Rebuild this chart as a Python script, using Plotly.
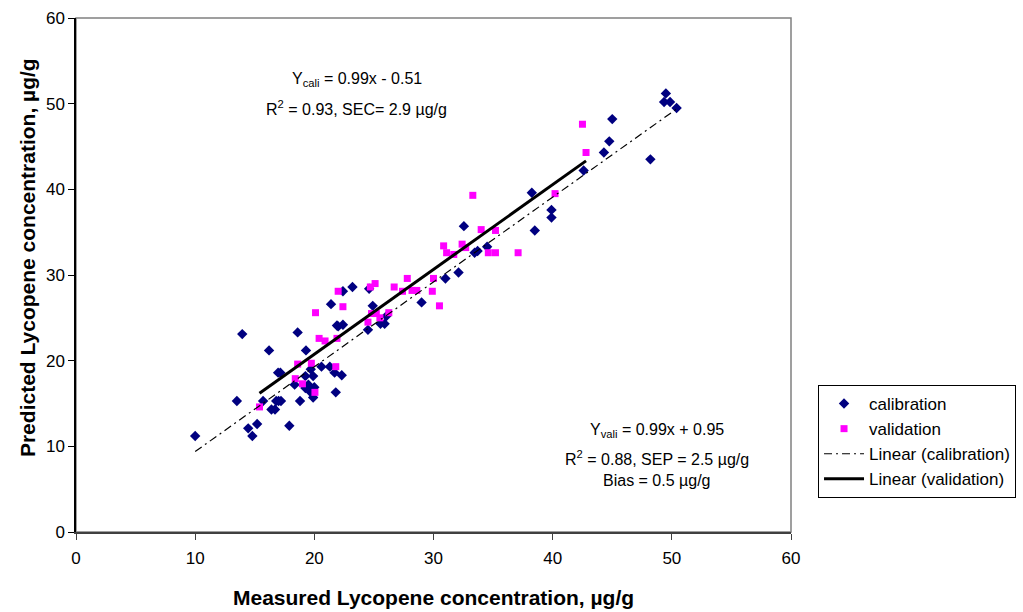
import plotly.graph_objects as go

# Calibration set (measured, predicted)
cal_x = [10.0, 13.95, 16.2, 18.6, 21.9, 19.3, 13.5, 14.45, 14.8, 15.2, 17.9, 15.7,
         16.4, 16.7, 16.96, 17.15, 16.8, 17.0, 17.2, 18.8, 19.7, 19.9, 18.35, 19.25,
         19.5, 19.7, 19.9, 20.0, 20.6, 21.3, 21.7, 21.8, 21.4, 22.4, 23.2, 22.0, 22.4,
         24.6, 24.9, 24.5, 22.3, 19.25, 32.55, 33.45, 33.7, 34.5, 32.1, 31.0, 29.0,
         25.55, 25.9, 26.05, 49.5, 49.35, 49.85, 50.4, 45.0, 44.75, 44.3, 48.2, 42.6,
         38.25, 39.9, 39.9, 38.5]
cal_y = [11.2, 23.1, 21.2, 23.3, 24.1, 21.2, 15.3, 12.1, 11.2, 12.6, 12.4, 15.3,
         14.3, 14.3, 18.6, 18.6, 15.3, 15.3, 15.3, 15.3, 19.0, 18.2, 17.2, 16.8,
         17.2, 16.3, 15.7, 16.9, 19.3, 19.3, 18.6, 16.3, 26.6, 28.1, 28.6, 24.0, 24.2,
         28.4, 26.4, 23.6, 18.3, 18.2, 35.7, 32.6, 32.8, 33.3, 30.3, 29.6, 26.8,
         24.3, 24.3, 25.2, 51.2, 50.2, 50.2, 49.5, 48.2, 45.6, 44.3, 43.5, 42.2,
         39.6, 37.6, 36.7, 35.2]

# Validation set (measured, predicted)
val_x = [15.4, 18.6, 19.75, 18.4, 19.0, 20.05, 21.8, 20.4, 20.9, 21.9, 20.1, 22.0,
         22.4, 24.7, 25.1, 24.5, 24.8, 33.3, 34.0, 35.2, 30.85, 31.1, 31.7, 32.4,
         32.7, 34.6, 35.2, 37.1, 30.0, 27.8, 29.9, 30.5, 28.2, 28.6, 27.4, 26.7,
         25.2, 25.5, 26.25, 42.5, 42.8, 40.2]
val_y = [14.6, 19.6, 19.7, 17.9, 17.3, 16.3, 19.3, 22.6, 22.3, 22.6, 25.6, 28.1,
         26.3, 28.6, 29.0, 24.5, 25.5, 39.3, 35.3, 35.2, 33.4, 32.6, 32.4, 33.6,
         33.2, 32.6, 32.6, 32.6, 29.6, 29.6, 28.1, 26.4, 28.2, 28.2, 28.1, 28.6,
         25.5, 25.0, 25.6, 47.6, 44.3, 39.5]

# Regression equations shown on the chart
cal_slope, cal_intercept = 0.99, -0.51
val_slope, val_intercept = 0.99, 0.95

cal_line_x = [min(cal_x), max(cal_x)]
cal_line_y = [cal_slope * v + cal_intercept for v in cal_line_x]
val_line_x = [min(val_x), max(val_x)]
val_line_y = [val_slope * v + val_intercept for v in val_line_x]

FONT = "Arial, Liberation Sans, sans-serif"

fig = go.Figure()
fig.add_trace(go.Scatter(x=cal_x, y=cal_y, mode="markers", name="calibration",
                         marker=dict(symbol="diamond", size=8, color="#000080")))
fig.add_trace(go.Scatter(x=val_x, y=val_y, mode="markers", name="validation",
                         marker=dict(symbol="square", size=7, color="#FF00FF")))
fig.add_trace(go.Scatter(x=cal_line_x, y=cal_line_y, mode="lines", name="Linear (calibration)",
                         line=dict(color="black", width=1.2, dash="8px,4px,2px,4px")))
fig.add_trace(go.Scatter(x=val_line_x, y=val_line_y, mode="lines", name="Linear (validation)",
                         line=dict(color="black", width=3)))

annots = [
    (23.57, 52.8, "Y<sub>cali</sub> = 0.99x - 0.51"),
    (23.57, 49.5, "R<sup>2</sup> = 0.93, SEC= 2.9 µg/g"),
    (48.72, 11.83, "Y<sub>vali</sub> = 0.99x + 0.95"),
    (48.72, 8.68, "R<sup>2</sup> = 0.88, SEP = 2.5 µg/g"),
    (48.72, 6.07, "Bias = 0.5 µg/g"),
]
for ax, ay, t in annots:
    fig.add_annotation(x=ax, y=ay, text=t, showarrow=False, xanchor="center", yanchor="middle",
                       font=dict(family=FONT, size=16, color="black"))

# axis titles
fig.add_annotation(xref="paper", yref="paper", x=-0.0685, y=0.533, xanchor="center",
                   yanchor="middle", textangle=-90, showarrow=False,
                   text="<b>Predicted Lycopene concentration, µg/g</b>",
                   font=dict(family=FONT, size=21, color="black"))
fig.add_annotation(xref="paper", yref="paper", x=0.5, y=-0.1265, xanchor="center",
                   yanchor="middle", showarrow=False,
                   text="<b>Measured Lycopene concentration, µg/g</b>",
                   font=dict(family=FONT, size=21, color="black"))

fig.add_shape(type="rect", xref="paper", yref="paper", x0=0, y0=0, x1=1, y1=1,
              line=dict(color="#808080", width=1.5), layer="below")

fig.update_layout(
    width=1023, height=612,
    margin=dict(l=76, r=232, t=18, b=80, autoexpand=False),
    paper_bgcolor="white", plot_bgcolor="white",
    font=dict(family=FONT, size=17, color="black"),
    showlegend=True,
    legend=dict(x=1.0378, y=0.286, xanchor="left", yanchor="top",
                bordercolor="black", borderwidth=1, bgcolor="white",
                font=dict(family=FONT, size=17, color="black"),
                itemwidth=40, tracegroupgap=0),
    xaxis=dict(range=[0, 60], dtick=10, tick0=0, showgrid=False, zeroline=False,
               showline=True, linecolor="#404040", linewidth=1.5, automargin=False,
               ticks="outside", ticklen=6, tickcolor="#404040",
               ticklabelstandoff=4,
               tickfont=dict(family=FONT, size=17, color="black")),
    yaxis=dict(range=[0, 60], dtick=10, tick0=0, showgrid=False, zeroline=False,
               showline=True, linecolor="black", linewidth=1.5, automargin=False,
               ticks="outside", ticklen=6, tickcolor="black",
               tickfont=dict(family=FONT, size=17, color="black")),
)

fig.write_html("out.html")
